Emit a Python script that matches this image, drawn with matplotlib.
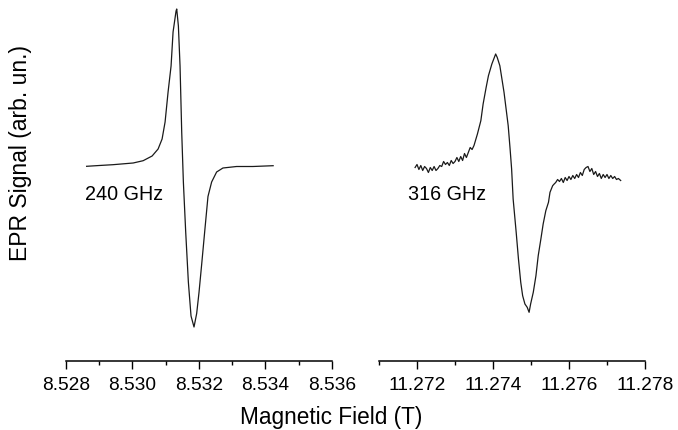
import matplotlib
matplotlib.use("Agg")
import matplotlib.pyplot as plt
from matplotlib.ticker import MultipleLocator, FormatStrFormatter

plt.rcParams['font.family'] = ['Liberation Sans', 'DejaVu Sans']

# ---- data ----
field_240 = [8.52862, 8.52900, 8.52941, 8.53002, 8.53032, 8.53059, 8.53077, 8.53089,
             8.53098, 8.53107, 8.53116, 8.53122, 8.53131, 8.53133, 8.53138, 8.53143,
             8.53148, 8.53153, 8.53160, 8.53168, 8.53176, 8.53185, 8.53193, 8.53200,
             8.53208, 8.53218, 8.53227, 8.53238, 8.53253, 8.53272, 8.53313, 8.53362,
             8.53423]
signal_240 = [0.002, 0.010, 0.018, 0.035, 0.058, 0.105, 0.175, 0.275,
              0.445, 0.745, 1.005, 1.345, 1.555, 1.575, 1.405, 1.005,
              0.345, -0.155, -0.655, -1.155, -1.495, -1.605, -1.470, -1.260,
              -0.980, -0.620, -0.300, -0.155, -0.055, -0.015, 0.000, 0.000,
              0.008]

field_316 = [11.27195, 11.27200, 11.27205, 11.27210, 11.27215, 11.27220, 11.27225, 11.27230,
             11.27235, 11.27240, 11.27245, 11.27250, 11.27255, 11.27260, 11.27265, 11.27270,
             11.27275, 11.27280, 11.27285, 11.27290, 11.27295, 11.27300, 11.27305, 11.27310,
             11.27315, 11.27320, 11.27325, 11.27330, 11.27335, 11.27340, 11.27345, 11.27350,
             11.27359, 11.27368, 11.27374, 11.27382, 11.27388, 11.27397,
             11.27407, 11.27411, 11.27418, 11.27429, 11.27440, 11.27445, 11.27449, 11.27453,
             11.27461, 11.27467, 11.27473, 11.27478, 11.27484, 11.27490, 11.27495, 11.27499,
             11.27506, 11.27513, 11.27519, 11.27526, 11.27532, 11.27539, 11.27546, 11.27550,
             11.27557, 11.27561,
             11.27565, 11.27570, 11.27575, 11.27580, 11.27585, 11.27590, 11.27595, 11.27600,
             11.27605, 11.27610, 11.27615, 11.27620, 11.27625, 11.27630, 11.27635, 11.27640,
             11.27645, 11.27650, 11.27655, 11.27660, 11.27665, 11.27670, 11.27675, 11.27680,
             11.27685, 11.27690, 11.27695, 11.27700, 11.27705, 11.27710, 11.27715, 11.27720,
             11.27725, 11.27730, 11.27736]
signal_316 = [-0.01, 0.02, -0.03, 0.01, -0.04, 0.00, -0.02, -0.06,
              -0.01, -0.04, 0.00, -0.04, -0.02, 0.01, 0.00, 0.05,
              0.02, 0.04, 0.01, 0.06, 0.03, 0.05, 0.09, 0.05,
              0.10, 0.06, 0.13, 0.09, 0.14, 0.19, 0.17, 0.21,
              0.325, 0.458, 0.625, 0.792, 0.908, 1.025,
              1.125, 1.092, 1.008, 0.742, 0.408, 0.175, -0.025, -0.325,
              -0.658, -0.925, -1.158, -1.292, -1.375, -1.408, -1.458, -1.375,
              -1.258, -1.092, -0.892, -0.725, -0.575, -0.442, -0.358, -0.258,
              -0.192, -0.175,
              -0.16, -0.13, -0.15, -0.12, -0.16, -0.11, -0.14, -0.10,
              -0.13, -0.09, -0.12, -0.08, -0.11, -0.06, -0.09, -0.03,
              -0.01, 0.00, -0.05, -0.02, -0.08, -0.05, -0.10, -0.07,
              -0.12, -0.08, -0.11, -0.08, -0.12, -0.09, -0.12, -0.10,
              -0.13, -0.12, -0.14]

xlim_240 = (8.528, 8.536)
xlim_316 = (11.271, 11.278)
label_240 = "240 GHz"
label_316 = "316 GHz"

W, H = 678, 431
fig = plt.figure(figsize=(W / 100, H / 100), dpi=100)

bottom = (H - 362) / H
top = (H - 5) / H
ax1 = fig.add_axes([66 / W, bottom, 266 / W, top - bottom])
ax2 = fig.add_axes([379 / W, bottom, 266 / W, top - bottom])

ylim = (-1.945, 1.625)
lc = '#1a1a1a'

for ax, f, s, xl in [(ax1, field_240, signal_240, xlim_240),
                     (ax2, field_316, signal_316, xlim_316)]:
    ax.plot(f, s, color=lc, lw=0.9)
    ax.set_xlim(*xl)
    ax.set_ylim(*ylim)
    for sp in ['top', 'right', 'left']:
        ax.spines[sp].set_visible(False)
    ax.spines['bottom'].set_linewidth(1.1)
    ax.set_yticks([])
    ax.xaxis.set_minor_locator(MultipleLocator(0.001))
    ax.xaxis.set_major_formatter(FormatStrFormatter('%.3f'))
    ax.tick_params(axis='x', which='major', direction='out', length=5.5, width=1.0,
                   labelsize=13.8, pad=5.5)
    ax.tick_params(axis='x', which='minor', direction='out', length=3, width=1.0)

ax1.xaxis.set_major_locator(MultipleLocator(0.002))
ax2.set_xticks([11.272, 11.274, 11.276, 11.278])

ax1.text(8.52857, -0.275, label_240, ha='left', va='center', fontsize=14.2)
ax2.text(11.27176, -0.275, label_316, ha='left', va='center', fontsize=14.2)

fig.text(331.5 / W, (H - 418) / H, "Magnetic Field (T)", ha='center', va='center', fontsize=16.3)
fig.text(20.5 / W, (H - 153) / H, "EPR Signal (arb. un.)", ha='center', va='center',
         rotation=90, fontsize=16.5)

fig.savefig("out.png", dpi=100)
